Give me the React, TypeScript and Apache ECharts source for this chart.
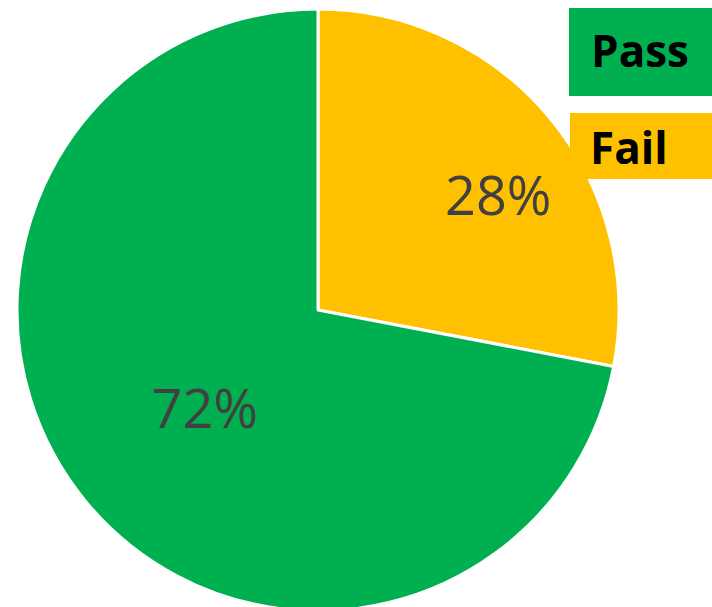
import React, { useEffect, useRef } from "react";
import * as echarts from "echarts";

const categories = ["Fail", "Pass"];
const values = [28, 72];
const colors = ["#FFC000", "#00B050"];
const legendOrder = ["Pass", "Fail"];

export default function App() {
  const ref = useRef<HTMLDivElement>(null);
  useEffect(() => {
    document.body.style.margin = "0";
    const chart = echarts.init(ref.current!, null, { renderer: "svg" });
    const data = categories.map((name, i) => ({
      name,
      value: values[i],
      itemStyle: { color: colors[i] },
      label: {
        offset: name === "Fail" ? [62, -18] : [5, -1],
      },
    }));
    chart.setOption({
      animation: false,
      backgroundColor: "#ffffff",
      series: [
        {
          type: "pie",
          center: [318, 310],
          radius: [0, 301],
          startAngle: 90,
          clockwise: true,
          avoidLabelOverlap: false,
          itemStyle: { borderColor: "#ffffff", borderWidth: 3 },
          label: {
            show: true,
            position: "inside",
            formatter: "{d}%",
            fontFamily: "Open Sans",
            fontSize: 54,
            color: "#404040",
          },
          labelLine: { show: false },
          emphasis: { disabled: true },
          data,
        },
      ],
      graphic: [
        {
          type: "rect",
          shape: { x: 569, y: 8, width: 143, height: 88 },
          style: { fill: colors[1] },
          z: 10,
        },
        {
          type: "text",
          x: 591,
          y: 50,
          style: {
            text: legendOrder[0],
            fontFamily: "Open Sans",
            fontWeight: "bold",
            fontSize: 44,
            fill: "#000000",
            verticalAlign: "middle",
          },
          z: 11,
        },
        {
          type: "rect",
          shape: { x: 570, y: 113, width: 142, height: 66 },
          style: { fill: colors[0] },
          z: 10,
        },
        {
          type: "text",
          x: 590,
          y: 147,
          style: {
            text: legendOrder[1],
            fontFamily: "Open Sans",
            fontWeight: "bold",
            fontSize: 44,
            fill: "#000000",
            verticalAlign: "middle",
          },
          z: 11,
        },
      ],
    });
    return () => chart.dispose();
  }, []);
  return <div ref={ref} style={{ width: 712, height: 607 }} />;
}
